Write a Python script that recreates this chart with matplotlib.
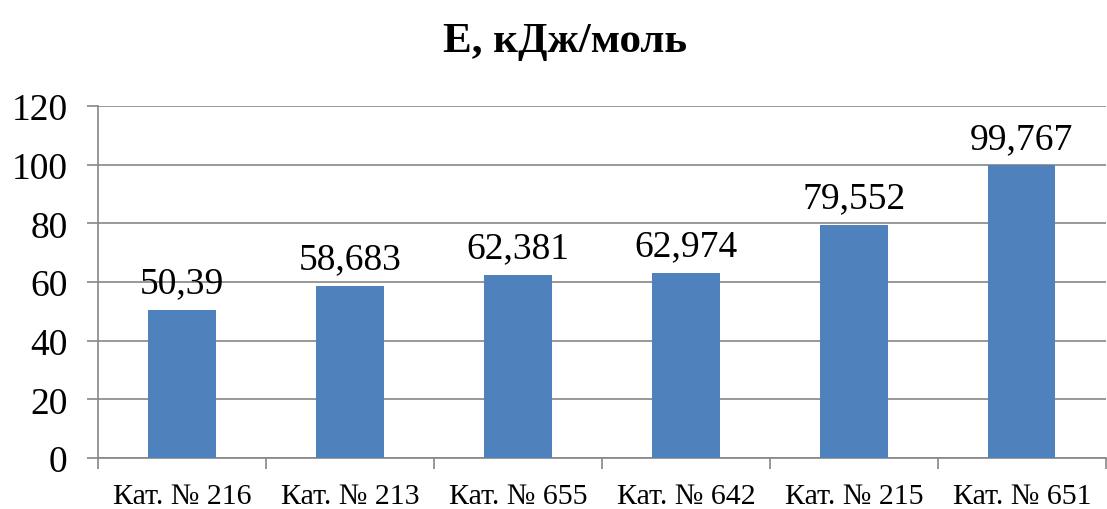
import matplotlib
matplotlib.use('Agg')
import matplotlib.pyplot as plt
import numpy as np

plt.rcParams['font.family'] = ['Liberation Serif', 'DejaVu Serif']

# catalysts and activation energy values
categories = ['Кат. № 216', 'Кат. № 213', 'Кат. № 655', 'Кат. № 642', 'Кат. № 215', 'Кат. № 651']
energy = [50.39, 58.683, 62.381, 62.974, 79.552, 99.767]
y_ticks = [0, 20, 40, 60, 80, 100, 120]

fig = plt.figure(figsize=(11.07, 5.10), dpi=100)
ax = fig.add_axes([0.0885, 0.1, 0.9105, 0.69])

x = np.arange(len(categories))
bars = ax.bar(x, energy, width=0.4, color='#4F81BD', zorder=3)

for b, v in zip(bars, energy):
    ax.annotate(str(v).replace('.', ','), (b.get_x() + b.get_width() / 2, v),
                xytext=(0, 7), textcoords='offset points',
                ha='center', va='bottom', fontsize=27)

ax.set_xlim(-0.5, len(categories) - 0.5)
ax.set_ylim(0, 120)
ax.set_yticks(y_ticks)
ax.set_yticklabels([str(t) for t in y_ticks], fontsize=27)
ax.yaxis.grid(True, color='#868686', linewidth=1.2, zorder=0)

ax.set_xticks(x)
ax.set_xticklabels(categories, fontsize=21.5)
ax.set_xticks(np.arange(-0.5, len(categories)), minor=True)
ax.tick_params(axis='x', which='major', length=0, pad=18)
ax.tick_params(axis='x', which='minor', length=8, color='#868686', width=1.2)
ax.tick_params(axis='y', length=8, color='#868686', width=1.2, pad=14)

for s in ['top', 'right']:
    ax.spines[s].set_visible(False)
for s in ['left', 'bottom']:
    ax.spines[s].set_color('#868686')
    ax.spines[s].set_linewidth(1.2)

fig.suptitle('E, кДж/моль', fontsize=31, fontweight='bold', x=0.51, y=0.955)

fig.savefig('out.png', dpi=100)
